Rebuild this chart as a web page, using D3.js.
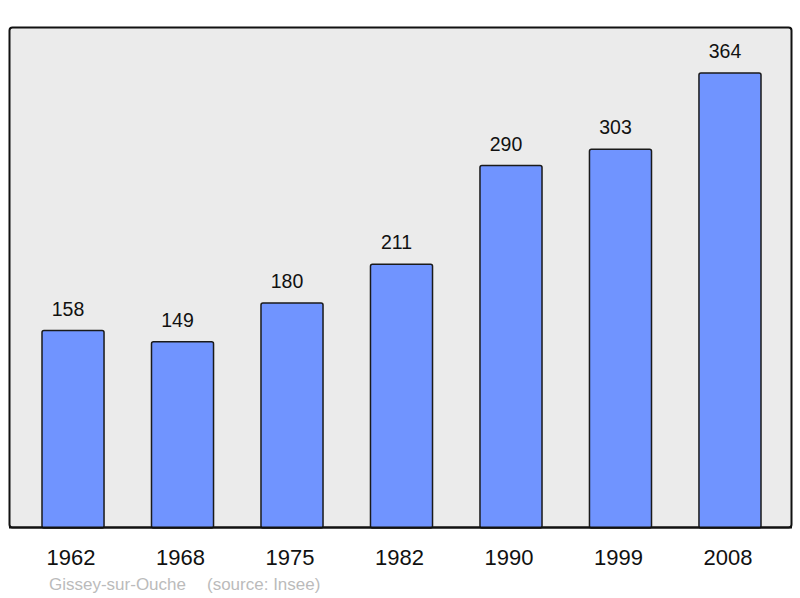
<!DOCTYPE html>
<html><head><meta charset="utf-8">
<script src="https://cdn.jsdelivr.net/npm/d3@7"></script>
<style>body{margin:0;background:#fff}svg{display:block}</style>
</head><body>
<script>
const years = ["1962","1968","1975","1982","1990","1999","2008"];
const population = [158,149,180,211,290,303,364];
const footerPlace = "Gissey-sur-Ouche";
const footerSource = "(source: Insee)";

const W = 800, H = 598;
const svg = d3.select("body").append("svg").attr("width", W).attr("height", H);

svg.append("rect").attr("x", 9.5).attr("y", 27.5).attr("width", 782).attr("height", 500)
  .attr("rx", 3).attr("fill", "#ebebeb").attr("stroke", "#111").attr("stroke-width", 2);

const x = d3.scaleBand().domain(years).range([42, 761]).paddingInner(0.4334).paddingOuter(0);
const y = d3.scaleLinear().domain([0, 400]).range([528, 28]);

const g = svg.append("g");
g.selectAll("rect.bar").data(population).join("rect").attr("class","bar")
  .attr("x", (d,i) => x(years[i]))
  .attr("y", d => y(d))
  .attr("width", x.bandwidth())
  .attr("height", d => y(0) - y(d))
  .attr("rx", 2)
  .attr("fill", "#7094ff").attr("stroke", "#1a1a1a").attr("stroke-width", 1.5);

g.selectAll("text.val").data(population).join("text").attr("class","val")
  .attr("x", (d,i) => x(years[i]) + x.bandwidth()/2 - 5)
  .attr("y", d => y(d) - 15)
  .attr("text-anchor","middle")
  .attr("font-family","Liberation Sans, Arial, sans-serif")
  .attr("font-size", 19.5).attr("fill","#111")
  .text(d => d);

svg.append("line").attr("x1", 9).attr("x2", 792).attr("y1", 527.5).attr("y2", 527.5)
  .attr("stroke","#111").attr("stroke-width",2);

const xAxis = d3.axisBottom(x).tickSize(0).tickPadding(0);
const ax = svg.append("g").attr("transform","translate(-2,549)").call(xAxis);
ax.select(".domain").remove();
ax.selectAll("text").attr("font-family","Liberation Sans, Arial, sans-serif")
  .attr("font-size", 22).attr("fill","#111").attr("dy","0.71em");

svg.append("text").attr("x", 49).attr("y", 590)
  .attr("font-family","Liberation Sans, Arial, sans-serif").attr("font-size", 17)
  .attr("fill","#bbbbbb").text(footerPlace);
svg.append("text").attr("x", 207).attr("y", 590)
  .attr("font-family","Liberation Sans, Arial, sans-serif").attr("font-size", 17)
  .attr("fill","#bbbbbb").text(footerSource);
</script>
</body></html>
